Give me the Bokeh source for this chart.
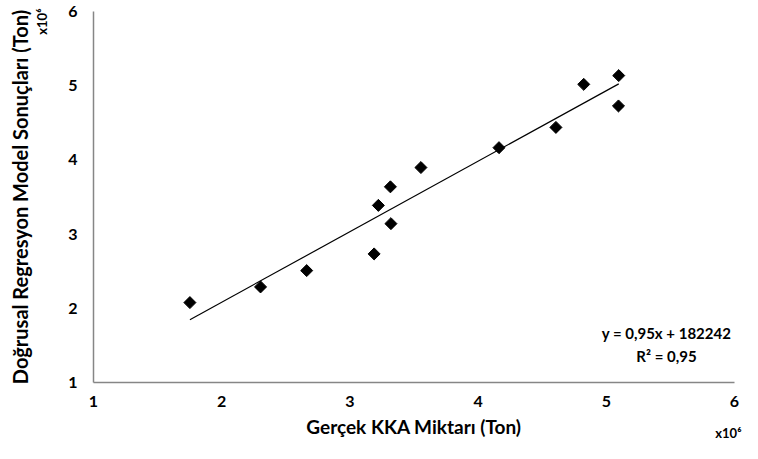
import math
from bokeh.plotting import figure
from bokeh.models import Label, Range1d, FixedTicker, Title
from bokeh.embed import file_html
from bokeh.resources import INLINE

# Data (values in millions of tons, x10^6)
gercek = [1.752, 2.303, 2.663, 3.189, 3.222, 3.320, 3.316, 3.554, 4.163, 4.607, 4.824, 5.097, 5.095]
model = [2.077, 2.288, 2.508, 2.733, 3.387, 3.141, 3.637, 3.897, 4.165, 4.438, 5.018, 5.136, 4.727]
slope = 0.95
intercept = 182242 / 1e6
ticks = [1, 2, 3, 4, 5, 6]

FONT = "Lato"
AXIS_COLOR = "#868686"

p = figure(width=742, height=443, output_backend="svg", toolbar_location=None,
           x_range=Range1d(1, 6), y_range=Range1d(1, 6),
           min_border_left=93, min_border_right=8, min_border_top=11, min_border_bottom=61)
p.outline_line_color = None
p.xgrid.visible = False
p.ygrid.visible = False

for ax in (p.xaxis[0], p.yaxis[0]):
    ax.ticker = FixedTicker(ticks=ticks)
    ax.axis_line_color = AXIS_COLOR
    ax.axis_line_width = 1.5
    ax.major_tick_line_color = None
    ax.minor_tick_line_color = None
    ax.major_tick_out = 0
    ax.major_tick_in = 0
    ax.major_label_text_font = FONT
    ax.major_label_text_font_style = "bold"
    ax.major_label_text_font_size = "16px"
    ax.major_label_text_color = "#000000"
    ax.axis_label_text_font = FONT
    ax.axis_label_text_font_style = "bold"
    ax.axis_label_text_color = "#000000"
p.xaxis.axis_label_text_font_size = "19px"
p.yaxis.axis_label_text_font_size = "20px"
p.xaxis.major_label_standoff = 13
p.yaxis.major_label_standoff = 16
p.xaxis.axis_label = "Gerçek KKA Miktarı (Ton)"
p.yaxis.axis_label = "Doğrusal Regresyon Model Sonuçları (Ton)"
p.xaxis.axis_label_standoff = 5
p.yaxis.axis_label_standoff = 33

# trend line
x0, x1 = min(gercek), max(gercek)
p.line([x0, x1], [slope * x0 + intercept, slope * x1 + intercept], line_color="black", line_width=1.2)

# points
p.scatter(gercek, model, marker="square", angle=math.pi / 4, size=8.5,
          fill_color="black", line_color="black")

def lab(x, y, text, size):
    p.add_layout(Label(x=x, y=y, x_units="screen", y_units="screen", text=text, text_font=FONT,
                       text_font_style="bold", text_font_size=size, text_align="center",
                       text_baseline="middle", text_color="black"))

lab(573, 50, "y = 0,95x + 182242", "15px")
lab(573, 27, "R² = 0,95", "15px")

# x10^6 multiplier marks
p.add_layout(Title(text="x10⁶", align="right", vertical_align="top", standoff=-32, offset=-7,
                   text_font=FONT, text_font_style="bold", text_font_size="13px",
                   text_color="#000000"), "below")
p.add_layout(Title(text="x10⁶", align="right", vertical_align="bottom", standoff=-88, offset=-3,
                   text_font=FONT, text_font_style="bold", text_font_size="13px",
                   text_color="#000000"), "left")

open("out.html", "w").write(file_html(p, INLINE))
